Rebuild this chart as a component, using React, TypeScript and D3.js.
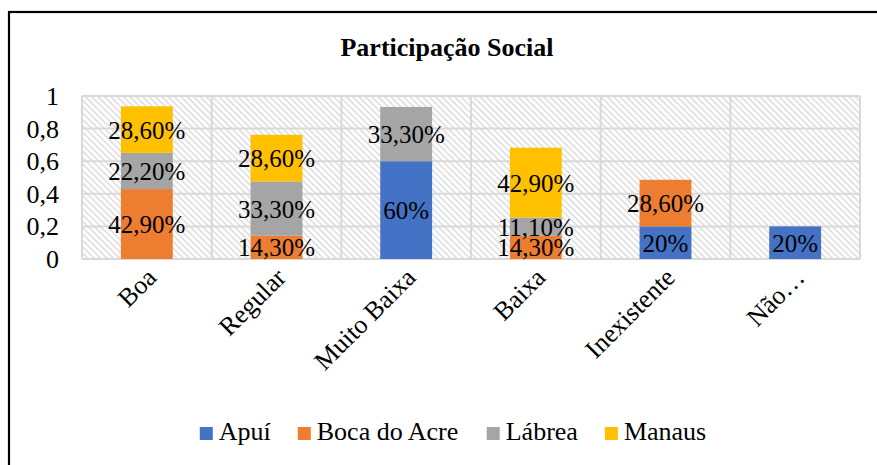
import React from "react";
import * as d3 from "d3";

const categories = ["Boa", "Regular", "Muito Baixa", "Baixa", "Inexistente", "Não…"];
const seriesNames = ["Apuí", "Boca do Acre", "Lábrea", "Manaus"];
const apui = [0, 0, 0.6, 0, 0.2, 0.2];
const bocaDoAcre = [0.429, 0.143, 0, 0.143, 0.286, 0];
const labrea = [0.222, 0.333, 0.333, 0.111, 0, 0];
const manaus = [0.286, 0.286, 0, 0.429, 0, 0];
const labelApui = ["", "", "60%", "", "20%", "20%"];
const labelBoca = ["42,90%", "14,30%", "", "14,30%", "28,60%", ""];
const labelLabrea = ["22,20%", "33,30%", "33,30%", "11,10%", "", ""];
const labelManaus = ["28,60%", "28,60%", "", "42,90%", "", ""];
const yTicks = [0, 0.2, 0.4, 0.6, 0.8, 1];
const yTickLabels = ["0", "0,2", "0,4", "0,6", "0,8", "1"];
const colors = ["#4472C4", "#ED7D31", "#A5A5A5", "#FFC000"];
const title = "Participação Social";

const W = 877;
const H = 465;
const FONT = '"Liberation Serif"';
const plot = { left: 82, right: 860, top: 96, bottom: 259 };

const charW: Record<string, number> = {
  A: 0.722, B: 0.667, L: 0.611, M: 0.889, a: 0.444, b: 0.5, c: 0.444, d: 0.5, e: 0.444,
  n: 0.5, o: 0.5, p: 0.5, r: 0.333, s: 0.389, u: 0.5, "í": 0.278, "á": 0.444, " ": 0.25,
};
function measure(text: string, size: number): number {
  let w = 0;
  for (const ch of text) w += charW[ch] ?? 0.5;
  return w * size;
}

export default function App() {
  const x = d3.scaleBand<string>().domain(categories).range([plot.left, plot.right]).paddingInner(0.6).paddingOuter(0.3);
  const xOuter = d3.scaleBand<string>().domain(categories).range([plot.left, plot.right]);
  const y = d3.scaleLinear().domain([0, 1]).range([plot.bottom, plot.top]);

  const rows = categories.map((c, i) => ({
    cat: c,
    [seriesNames[0]]: apui[i],
    [seriesNames[1]]: bocaDoAcre[i],
    [seriesNames[2]]: labrea[i],
    [seriesNames[3]]: manaus[i],
  }));
  const labels = [labelApui, labelBoca, labelLabrea, labelManaus];
  const stack = d3.stack<any>().keys(seriesNames)(rows as any);

  const bounds = categories.map((c) => xOuter(c) as number).concat([plot.right]);

  const ts = (size: number, bold = false): React.CSSProperties =>
    bold ? { fontFamily: FONT, fontSize: `${size}px`, fontWeight: "bold" } : { fontFamily: FONT, fontSize: `${size}px` };

  const sq = 13;
  const sqGap = 6;
  const itemGap = 27;
  const widths = seriesNames.map((n) => sq + sqGap + measure(n, 26));
  const total = widths.reduce((a, b) => a + b, 0) + itemGap * (widths.length - 1);
  let lx = 453 - total / 2;
  const legendX = widths.map((w) => {
    const p = lx;
    lx += w + itemGap;
    return p;
  });

  return (
    <svg width={W} height={H} style={{ position: "absolute", left: 0, top: 0 }}>
      <defs>
        <pattern id="hatch" patternUnits="userSpaceOnUse" width={4.5} height={4.5} patternTransform="rotate(-45)">
          <rect width={4.5} height={4.5} fill="#ffffff" />
          <line x1={1} y1={0} x2={1} y2={4.5} stroke="#d6d6d6" strokeWidth={1.3} />
        </pattern>
      </defs>
      <rect x={0} y={0} width={W} height={H} fill="#ffffff" />
      <rect x={9} y={12} width={1000} height={1000} fill="none" stroke="#000" strokeWidth={2.2} />

      <text x={447} y={56} textAnchor="middle" style={ts(26, true)}>
        {title}
      </text>

      <rect x={plot.left} y={plot.top} width={plot.right - plot.left} height={plot.bottom - plot.top} fill="url(#hatch)" />
      <g stroke="#d9d9d9" strokeWidth={2}>
        {yTicks.map((t) => (
          <line key={`h${t}`} x1={plot.left} x2={plot.right} y1={y(t)} y2={y(t)} />
        ))}
        {bounds.map((b, i) => (
          <line key={`v${i}`} x1={b} x2={b} y1={plot.top} y2={plot.bottom} />
        ))}
      </g>

      {yTicks.map((t, i) => (
        <text key={`yt${i}`} x={59} y={y(t) + 9} textAnchor="end" style={ts(26)}>
          {yTickLabels[i]}
        </text>
      ))}

      {stack.map((layer, si) =>
        layer.map((seg, ci) => {
          const v = seg[1] - seg[0];
          if (v <= 0) return null;
          return (
            <rect
              key={`b${si}-${ci}`}
              x={x(categories[ci]) as number}
              width={x.bandwidth()}
              y={y(seg[1])}
              height={y(seg[0]) - y(seg[1])}
              fill={colors[si]}
            />
          );
        })
      )}

      {stack.map((layer, si) =>
        layer.map((seg, ci) => {
          const v = seg[1] - seg[0];
          if (v <= 0 || !labels[si][ci]) return null;
          return (
            <text
              key={`l${si}-${ci}`}
              x={(x(categories[ci]) as number) + x.bandwidth() / 2}
              y={y((seg[0] + seg[1]) / 2) + 9}
              textAnchor="middle"
              style={ts(25)}
            >
              {labels[si][ci]}
            </text>
          );
        })
      )}

      {categories.map((c) => (
        <text
          key={`c${c}`}
          transform={`translate(${(x(c) as number) + x.bandwidth() / 2 + 11},${plot.bottom + 20}) rotate(-45)`}
          textAnchor="end"
          style={ts(26)}
        >
          {c}
        </text>
      ))}

      {seriesNames.map((n, i) => (
        <g key={`lg${n}`} transform={`translate(${legendX[i]},440)`}>
          <rect x={0} y={-13} width={sq} height={sq} fill={colors[i]} />
          <text x={sq + sqGap} y={0} style={ts(26)}>
            {n}
          </text>
        </g>
      ))}
    </svg>
  );
}
